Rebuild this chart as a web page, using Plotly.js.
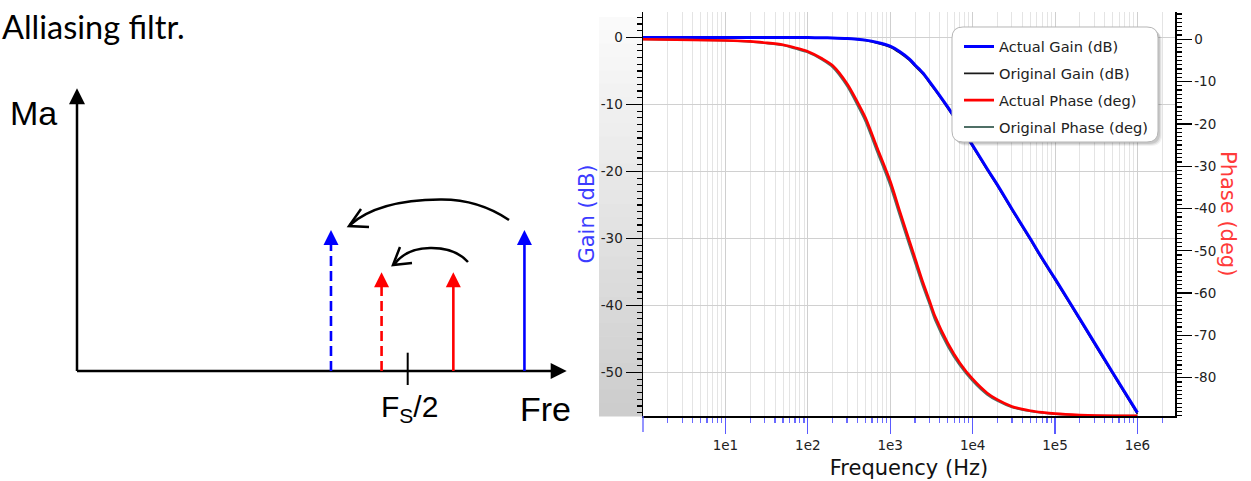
<!DOCTYPE html>
<html><head><meta charset="utf-8">
<script src="https://cdn.plot.ly/plotly-3.0.1.min.js"></script>
<style>html,body{margin:0;padding:0;background:#fff;overflow:hidden}#chart{width:1251px;height:481px}</style>
</head><body><div id="chart"></div>
<script>
// ---------------- Bode plot data ----------------
const freq          = [1, 10, 20, 30, 50, 70, 100, 150, 200, 300, 400, 500, 700, 1000, 1300, 1700, 2000, 2500, 3000, 3500, 5000, 7000, 10000, 15000, 20000, 30000, 50000, 70000, 100000, 200000, 500000, 1000000];
const gainActual    = [0, 0, 0, 0, 0, -0.01, -0.02, -0.04, -0.07, -0.15, -0.27, -0.4, -0.75, -1.3, -2.1, -3.2, -4.1, -5.3, -6.6, -7.7, -10.4, -13.1, -16.1, -19.6, -22.0, -25.6, -30.0, -33.0, -36.0, -42.0, -50.0, -56.0];
const gainOriginal  = [0, 0, 0, 0, -0.01, -0.02, -0.03, -0.06, -0.09, -0.18, -0.31, -0.45, -0.85, -1.45, -2.3, -3.4, -4.3, -5.5, -6.8, -7.9, -10.6, -13.3, -16.3, -19.8, -22.2, -25.8, -30.2, -33.2, -36.2, -42.2, -50.2, -56.2];
const phaseActual   = [0, -0.3, -0.5, -0.8, -1.3, -2.0, -2.9, -4.6, -6.2, -10.5, -14.8, -18.5, -25.8, -33.5, -40.5, -47.5, -51.7, -57.5, -61.8, -65.5, -71.8, -76.5, -80.3, -83.6, -85.2, -86.8, -87.8, -88.2, -88.5, -88.8, -89.0, -89.0];
const phaseOriginal = [0, -0.3, -0.6, -0.9, -1.4, -2.2, -3.1, -4.9, -6.6, -11.1, -15.6, -19.4, -26.8, -34.6, -41.6, -48.6, -52.8, -58.5, -62.7, -66.4, -72.6, -77.1, -80.8, -84.0, -85.5, -87.0, -87.9, -88.3, -88.6, -88.9, -89.0, -89.0];
const seriesNames = ['Actual Gain (dB)', 'Original Gain (dB)', 'Actual Phase (deg)', 'Original Phase (deg)'];
const xTickVals = [10, 100, 1000, 10000, 100000, 1000000];
const xTickText = ['1e1', '1e2', '1e3', '1e4', '1e5', '1e6'];
const gainTickVals = [0, -10, -20, -30, -40, -50];
const gainTickText = ['0', '-10', '-20', '-30', '-40', '-50'];
const phaseTickVals = [0, -10, -20, -30, -40, -50, -60, -70, -80];
const phaseTickText = ['0', '-10', '-20', '-30', '-40', '-50', '-60', '-70', '-80'];
const gainRange = [-56.5, 3.8];
const phaseRange = [-89.05, 6.45];
const freqRangeLog = [0, 6.456];

// ---------------- Aliasing diagram data ----------------
// frequency in units of Fs/2, magnitude relative
const signalFreq = [1.138, 1.353];   // red, blue (real components)
const aliasFreq  = [0.921, 0.768];   // red, blue (aliased, dashed)
const componentMag = [0.7, 1.0];
const diagramTexts = ['Alliasing filtr.', 'Ma', 'F<sub>S</sub>/2', 'Fre'];

// ---------------- geometry helpers ----------------
const W = 1251, H = 481;
const px = x => x / W, py = y => 1 - y / H;
const PL = 643, PR = 1175, PT = 12, PB = 416;
const DX0 = 77, DY0 = 371, DSX = 330.7, DSY = 141, DW = 600;
const ux = x => (x - DX0) / DSX, uy = y => (DY0 - y) / DSY;
const P = (x, y) => ux(x).toFixed(4) + ',' + uy(y).toFixed(4);
const AXIS_TOP = uy(88.3), AXIS_RIGHT = ux(566.7);
const compColors = ['#ff0000', '#0000ff'];

const sm = {shape: 'spline', smoothing: 0.8};
const traces = [];
traces.push({x: freq, y: gainOriginal, name: seriesNames[1], legendgroup: 'g2', legendrank: 2, mode: 'lines',
  line: Object.assign({color: '#1a1a1a', width: 1.6}, sm), xaxis: 'x', yaxis: 'y'});
traces.push({x: freq, y: gainActual, name: seriesNames[0], legendgroup: 'g1', legendrank: 1, mode: 'lines',
  line: Object.assign({color: '#0000ff', width: 3}, sm), xaxis: 'x', yaxis: 'y'});
traces.push({x: freq, y: phaseOriginal, name: seriesNames[3], legendgroup: 'g4', legendrank: 4, mode: 'lines',
  line: Object.assign({color: '#4f6f66', width: 2}, sm), xaxis: 'x', yaxis: 'y2'});
traces.push({x: freq, y: phaseActual, name: seriesNames[2], legendgroup: 'g3', legendrank: 3, mode: 'lines',
  line: Object.assign({color: '#ff0000', width: 2.6}, sm), xaxis: 'x', yaxis: 'y2'});

// diagram: axes
const headCut = 6 / DSY;
const dia = {xaxis: 'x5', yaxis: 'y5', showlegend: false, hoverinfo: 'skip'};
traces.push(Object.assign({x: [0, 0], y: [0, AXIS_TOP - 8 / DSY], mode: 'lines', line: {color: '#000', width: 2.5}}, dia));
traces.push(Object.assign({x: [0, AXIS_RIGHT - 8 / DSX], y: [0, 0], mode: 'lines', line: {color: '#000', width: 2.5}}, dia));
traces.push(Object.assign({x: [0, AXIS_RIGHT], y: [AXIS_TOP, 0], mode: 'markers',
  marker: {symbol: ['arrow-up', 'arrow-right'], size: 16, color: '#000', line: {width: 0}}}, dia));
// diagram: spectral components
signalFreq.forEach((f, i) => {
  traces.push(Object.assign({x: [f, f], y: [0, componentMag[i] - headCut], mode: 'lines',
    line: {color: compColors[i], width: 2.6}}, dia));
  traces.push(Object.assign({x: [aliasFreq[i], aliasFreq[i]], y: [0, componentMag[i] - headCut], mode: 'lines',
    line: {color: compColors[i], width: 2.6, dash: '10px,5px'}}, dia));
});
traces.push(Object.assign({x: signalFreq.concat(aliasFreq), y: componentMag.concat(componentMag), mode: 'markers',
  marker: {symbol: 'arrow-up', size: 15, color: compColors.concat(compColors), line: {width: 0}}}, dia));

// minor tick positions for the log axis
const minorX = [];
for (let d = 0; d <= 6; d++) for (let k = 2; k <= 9; k++) { const v = k * Math.pow(10, d); if (v < 2.85e6) minorX.push(v); }

const shapes = [];
// gradient gutter left of the gain axis
const NB = 30;
for (let i = 0; i < NB; i++) {
  const y0 = 17 + (PB - 17) * i / NB, y1 = 17 + (PB - 17) * (i + 1) / NB;
  const c = Math.round(251 - 47 * (i + 0.5) / NB);
  shapes.push({type: 'rect', xref: 'paper', yref: 'paper', x0: px(599), x1: px(PL), y0: py(y0), y1: py(y1 + 0.5),
    fillcolor: `rgb(${c},${c},${c})`, line: {width: 0}, layer: 'below'});
}
// major tick at the start of the frequency axis (1 Hz), which carries no label
shapes.push({type: 'line', xref: 'paper', yref: 'paper', x0: px(PL), x1: px(PL), y0: py(PB), y1: py(PB + 16),
  line: {color: '#5a5aff', width: 1.3}});
function roundRectPath(x1, y1, x2, y2, r) {
  const X = v => px(v).toFixed(5), Y = v => py(v).toFixed(5);
  return `M${X(x1 + r)},${Y(y1)} L${X(x2 - r)},${Y(y1)} Q${X(x2)},${Y(y1)} ${X(x2)},${Y(y1 + r)} L${X(x2)},${Y(y2 - r)} Q${X(x2)},${Y(y2)} ${X(x2 - r)},${Y(y2)} L${X(x1 + r)},${Y(y2)} Q${X(x1)},${Y(y2)} ${X(x1)},${Y(y2 - r)} L${X(x1)},${Y(y1 + r)} Q${X(x1)},${Y(y1)} ${X(x1 + r)},${Y(y1)} Z`;
}
const LB = [952, 27, 1158, 142];
[[4, 0.05], [3, 0.08], [2, 0.10]].forEach(([o, a]) => {
  shapes.push({type: 'path', xref: 'paper', yref: 'paper', path: roundRectPath(LB[0] + o, LB[1] + o, LB[2] + o, LB[3] + o, 11),
    fillcolor: `rgba(0,0,0,${a})`, line: {width: 0}, layer: 'above'});
});
shapes.push({type: 'path', xref: 'paper', yref: 'paper', path: roundRectPath(LB[0], LB[1], LB[2], LB[3], 11),
  fillcolor: '#ffffff', line: {color: '#b5b5b5', width: 1}, layer: 'above'});
// diagram decorations: Fs/2 tick and curved arrows
const dline = {color: '#000', width: 2.5};
shapes.push({type: 'line', xref: 'x5', yref: 'y5', x0: 1, x1: 1, y0: uy(352.7), y1: uy(385), line: {color: '#000', width: 2}});
shapes.push({type: 'path', xref: 'x5', yref: 'y5', line: dline,
  path: `M${P(509, 220)} Q${P(478, 199)} ${P(440, 199.5)} Q${P(378, 200)} ${P(350, 225)}`});
shapes.push({type: 'path', xref: 'x5', yref: 'y5', line: dline, path: `M${P(361, 209)} L${P(349, 226)} L${P(369, 227)}`});
shapes.push({type: 'path', xref: 'x5', yref: 'y5', line: dline,
  path: `M${P(468, 262)} Q${P(455, 247.5)} ${P(430, 248)} Q${P(405, 248.5)} ${P(394, 265)}`});
shapes.push({type: 'path', xref: 'x5', yref: 'y5', line: dline, path: `M${P(400, 247)} L${P(393, 265)} L${P(412, 263)}`});

const tickFont = {family: 'DejaVu Sans', size: 13.5, color: '#222'};
const annotations = [
  {text: diagramTexts[0], xref: 'paper', yref: 'paper', x: px(0), y: py(26.5), xanchor: 'left', yanchor: 'middle', showarrow: false,
    font: {family: 'Lato', size: 32.5, color: '#000'}},
  {text: diagramTexts[1], xref: 'paper', yref: 'paper', x: px(8), y: py(112.5), xanchor: 'left', yanchor: 'middle', showarrow: false,
    font: {family: 'Liberation Sans', size: 34, color: '#000'}},
  {text: diagramTexts[2], xref: 'paper', yref: 'paper', x: px(379), y: py(408), xanchor: 'left', yanchor: 'middle', showarrow: false,
    font: {family: 'Liberation Sans', size: 30, color: '#000'}},
  {text: diagramTexts[3], xref: 'paper', yref: 'paper', x: px(518), y: py(408.6), xanchor: 'left', yanchor: 'middle', showarrow: false,
    font: {family: 'Liberation Sans', size: 34, color: '#000'}},
  {text: 'Phase (deg)', xref: 'paper', yref: 'paper', x: px(1228), y: py(213), xanchor: 'center', yanchor: 'middle', textangle: 90,
    showarrow: false, font: {family: 'DejaVu Sans', size: 21, color: '#ff3a3a'}}
];

const layout = {
  width: W, height: H, margin: {l: 0, r: 0, t: 0, b: 0}, paper_bgcolor: '#fff', plot_bgcolor: '#fff', showlegend: true,
  xaxis: {type: 'log', domain: [px(PL), px(PR)], range: freqRangeLog, anchor: 'y', showline: true, linecolor: '#000', linewidth: 1.5,
    tickmode: 'array', tickvals: xTickVals, ticktext: xTickText, ticks: 'outside', ticklen: 16, tickwidth: 1.3, tickcolor: '#5a5aff',
    tickfont: tickFont, showgrid: true, gridcolor: '#cfcfcf', gridwidth: 1, zeroline: false, fixedrange: true,
    minor: {tickmode: 'array', tickvals: minorX, ticks: 'outside', ticklen: 5, tickwidth: 1.3, tickcolor: '#6a6aff', showgrid: true, gridcolor: '#e4e4e4', gridwidth: 1},
    title: {text: 'Frequency (Hz)', standoff: 8, font: {family: 'DejaVu Sans', size: 21, color: '#111'}}},
  yaxis: {domain: [py(PB), py(PT)], range: gainRange, anchor: 'x', side: 'left', showline: true, linecolor: '#000', linewidth: 1.5,
    tickmode: 'array', tickvals: gainTickVals, ticktext: gainTickText, ticks: 'outside', ticklen: 16, tickwidth: 1.3, tickcolor: '#000',
    tickfont: tickFont, showgrid: true, gridcolor: '#d0d0d0', zeroline: false, fixedrange: true,
    minor: {tickmode: 'linear', tick0: 0, dtick: 1, ticks: 'outside', ticklen: 5, tickwidth: 1.2, tickcolor: '#000', showgrid: false},
    title: {text: 'Gain (dB)', standoff: 0, font: {family: 'DejaVu Sans', size: 21, color: '#3c3cff'}}},
  yaxis3: {overlaying: 'y', anchor: 'x', side: 'left', range: gainRange, tickmode: 'array', tickvals: [-55, -45, -35, -25, -15, -5],
    ticks: 'outside', ticklen: 10, tickwidth: 1.2, tickcolor: '#000', showticklabels: false, showgrid: true, gridcolor: '#e2e2e2',
    zeroline: false, showline: false, fixedrange: true},
  yaxis2: {overlaying: 'y', anchor: 'x', side: 'right', range: phaseRange, showline: true, linecolor: '#000', linewidth: 1.5,
    tickmode: 'array', tickvals: phaseTickVals, ticktext: phaseTickText, ticks: 'outside', ticklen: 15, tickwidth: 1.3, tickcolor: '#000',
    tickfont: tickFont, showgrid: false, zeroline: false, fixedrange: true,
    minor: {tickmode: 'linear', tick0: 0, dtick: 1, ticks: 'outside', ticklen: 5, tickwidth: 1.2, tickcolor: '#000', showgrid: false}},
  yaxis4: {overlaying: 'y', anchor: 'x', side: 'right', range: phaseRange, tickmode: 'array', tickvals: [-85, -75, -65, -55, -45, -35, -25, -15, -5, 5],
    ticks: 'outside', ticklen: 9, tickwidth: 1.2, tickcolor: '#000', showticklabels: false, showgrid: false, zeroline: false, showline: false, fixedrange: true},
  xaxis5: {domain: [0, px(DW)], range: [ux(0), ux(DW)], anchor: 'y5', visible: false, fixedrange: true},
  yaxis5: {domain: [0, 1], range: [uy(H), uy(0)], anchor: 'x5', visible: false, fixedrange: true},
  legend: {x: px(959), xanchor: 'left', y: py(30.6), yanchor: 'top', bgcolor: 'rgba(0,0,0,0)', borderwidth: 0,
    font: {family: 'DejaVu Sans', size: 14.6, color: '#222'}, traceorder: 'grouped', tracegroupgap: 4.8},
  shapes: shapes, annotations: annotations
};
Plotly.newPlot('chart', traces, layout, {displayModeBar: false, staticPlot: true});
</script></body></html>
